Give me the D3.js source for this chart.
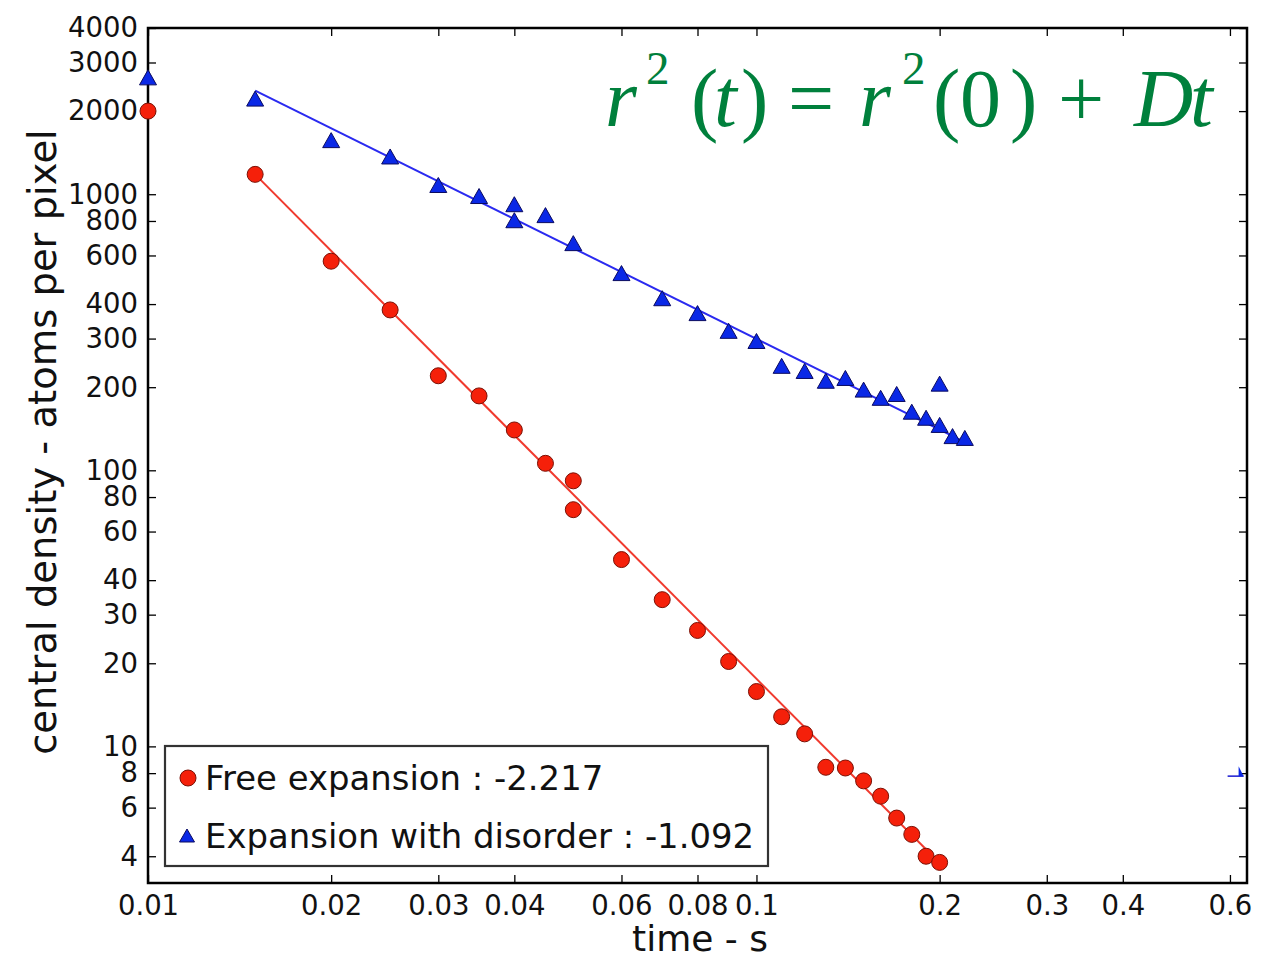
<!DOCTYPE html>
<html>
<head>
<meta charset="utf-8">
<script src="https://cdn.jsdelivr.net/npm/d3@7"></script>
<style>
  body { margin: 0; background: #fff; }
  text { font-family: "DejaVu Sans", sans-serif; }
</style>
</head>
<body>
<div id="chart"></div>
<script>
// free expansion (red circles)
var freeT = [0.01, 0.015, 0.02, 0.025, 0.03, 0.035, 0.04, 0.045, 0.05, 0.05, 0.06, 0.07, 0.08, 0.09, 0.1,
             0.11, 0.12, 0.13, 0.14, 0.15, 0.16, 0.17, 0.18, 0.19, 0.2];
var freeN = [2000, 1180, 572, 381, 220, 186, 140, 106, 91.6, 72, 47.5, 34, 26.3, 20.3, 15.8,
             12.8, 11.1, 8.4, 8.35, 7.5, 6.6, 5.5, 4.8, 4.0, 3.8];

// expansion with disorder (blue triangles)
var disT = [0.01, 0.015, 0.02, 0.025, 0.03, 0.035, 0.04, 0.04, 0.045, 0.05, 0.06, 0.07, 0.08, 0.09, 0.1,
            0.11, 0.12, 0.13, 0.14, 0.15, 0.16, 0.17, 0.18, 0.19, 0.2, 0.2, 0.21, 0.22];
var disN = [2650, 2220, 1570, 1370, 1080, 985, 920, 805, 840, 665, 518, 420, 371, 320, 294,
            239, 229, 211, 216, 196, 183, 189, 163, 155, 206, 146, 133, 131];

// power-law fit lines, end points
var freeFit = [[0.015, 1180], [0.2, 3.78]];
var disFit = [[0.015, 2373], [0.22, 126.5]];

// the stray blue mark on the right edge
var strayT = [0.62];
var strayN = [8];

var xTicks = [0.01, 0.02, 0.03, 0.04, 0.06, 0.08, 0.1, 0.2, 0.3, 0.4, 0.6];
var yTicks = [4, 6, 8, 10, 20, 30, 40, 60, 80, 100, 200, 300, 400, 600, 800, 1000, 2000, 3000, 4000];

var legendLabels = ["Free expansion : -2.217", "Expansion with disorder : -1.092"];

var margin = {top: 28, right: 14, bottom: 77, left: 148},
    width = 1261 - margin.left - margin.right,
    height = 960 - margin.top - margin.bottom;

var svg = d3.select("#chart")
  .append("svg")
    .attr("width", 1261)
    .attr("height", 960);

var g = svg.append("g")
    .attr("transform", "translate(" + margin.left + "," + margin.top + ")");

var x = d3.scaleLog()
  .domain([0.01, 0.64])
  .range([0, width]);

var y = d3.scaleLog()
  .domain([3.2, 4000])
  .range([height, 0]);

var fmt = function(d) { return String(d); };

// axes with inward ticks on all four sides
function styleAxis(sel) {
  sel.select(".domain").remove();
  sel.selectAll(".tick line").attr("stroke", "#000").attr("stroke-width", 1.3);
  sel.selectAll(".tick text")
    .attr("fill", "#111")
    .style("font-family", "'DejaVu Sans', sans-serif")
    .style("font-size", "27.5px");
}

g.append("g")
  .attr("transform", "translate(0," + height + ")")
  .call(d3.axisBottom(x).tickValues(xTicks).tickFormat(fmt).tickSizeInner(-8).tickPadding(12))
  .call(styleAxis);

g.append("g")
  .call(d3.axisTop(x).tickValues(xTicks).tickFormat("").tickSizeInner(-8))
  .call(styleAxis);

g.append("g")
  .call(d3.axisLeft(y).tickValues(yTicks).tickFormat(fmt).tickSizeInner(-8).tickPadding(10))
  .call(styleAxis);

g.append("g")
  .attr("transform", "translate(" + width + ",0)")
  .call(d3.axisRight(y).tickValues(yTicks).tickFormat("").tickSizeInner(-8))
  .call(styleAxis);

// frame
g.append("rect")
  .attr("x", 0).attr("y", 0)
  .attr("width", width).attr("height", height)
  .attr("fill", "none")
  .attr("stroke", "#000")
  .attr("stroke-width", 2.5);

var line = d3.line()
  .x(function(d) { return x(d[0]); })
  .y(function(d) { return y(d[1]); });

g.append("path")
  .datum(freeFit)
  .attr("d", line)
  .attr("fill", "none")
  .attr("stroke", "#f03a2e")
  .attr("stroke-width", 2);

g.append("path")
  .datum(disFit)
  .attr("d", line)
  .attr("fill", "none")
  .attr("stroke", "#2a2af0")
  .attr("stroke-width", 2);

var tri = "M0,-7.5L8.5,7.5L-8.5,7.5Z";

g.selectAll(".dis")
  .data(d3.zip(disT, disN))
  .enter()
  .append("path")
    .attr("class", "dis")
    .attr("d", tri)
    .attr("transform", function(d) { return "translate(" + x(d[0]) + "," + y(d[1]) + ")"; })
    .attr("fill", "#0a28e6")
    .attr("stroke", "#0a0a60")
    .attr("stroke-width", 1);

g.selectAll(".free")
  .data(d3.zip(freeT, freeN))
  .enter()
  .append("circle")
    .attr("class", "free")
    .attr("cx", function(d) { return x(d[0]); })
    .attr("cy", function(d) { return y(d[1]); })
    .attr("r", 8)
    .attr("fill", "#f5200a")
    .attr("stroke", "#7a1005")
    .attr("stroke-width", 1);

// stray mark: a short blue stroke and the right half of a triangle
svg.append("clipPath")
  .attr("id", "halfclip")
  .append("rect")
    .attr("x", 0).attr("y", -10).attr("width", 10).attr("height", 20);

var stray = g.selectAll(".stray")
  .data(d3.zip(strayT, strayN))
  .enter()
  .append("g")
    .attr("class", "stray")
    .attr("transform", function(d) { return "translate(" + x(d[0]) + "," + y(d[1]) + ")"; });
stray.append("line")
  .attr("x1", -11).attr("x2", 5).attr("y1", 3).attr("y2", 3)
  .attr("stroke", "#1a1ad0").attr("stroke-width", 1.5);
stray.append("path")
  .attr("d", "M0,-7L5,3L-5,3Z")
  .attr("clip-path", "url(#halfclip)")
  .attr("fill", "#0a28e6");

// legend
var leg = svg.append("g").attr("transform", "translate(165,746)");
leg.append("rect")
  .attr("width", 603).attr("height", 120)
  .attr("fill", "#fff")
  .attr("stroke", "#333")
  .attr("stroke-width", 2.2);
leg.append("circle")
  .attr("cx", 23).attr("cy", 32).attr("r", 8)
  .attr("fill", "#f5200a").attr("stroke", "#7a1005").attr("stroke-width", 1);
leg.append("path")
  .attr("d", "M0,-7L7.5,6L-7.5,6Z")
  .attr("transform", "translate(22,90)")
  .attr("fill", "#0a28e6").attr("stroke", "#0a0a60").attr("stroke-width", 1);
leg.selectAll(".lt")
  .data(legendLabels)
  .enter()
  .append("text")
    .attr("class", "lt")
    .attr("x", 40)
    .attr("y", function(d, i) { return 44 + i * 58; })
    .attr("fill", "#111")
    .style("font-size", "33.9px")
    .text(function(d) { return d; });

// axis labels
svg.append("text")
  .attr("x", 700)
  .attr("y", 951)
  .attr("text-anchor", "middle")
  .attr("fill", "#111")
  .style("font-size", "36px")
  .text("time - s");

svg.append("text")
  .attr("transform", "translate(56,442)rotate(-90)")
  .attr("text-anchor", "middle")
  .attr("fill", "#111")
  .style("font-size", "38.5px")
  .text("central density - atoms per pixel");

// equation
var eqPieces = [
  {x: 605, t: "r", it: true},
  {x: 646, t: "2", sup: true},
  {x: 691, t: "("},
  {x: 714, t: "t", it: true},
  {x: 741, t: ")"},
  {x: 788, t: "="},
  {x: 859, t: "r", it: true},
  {x: 902, t: "2", sup: true},
  {x: 933, t: "("},
  {x: 960, t: "0"},
  {x: 1010, t: ")"},
  {x: 1058, t: "+"},
  {x: 1134, t: "D", it: true},
  {x: 1190, t: "t", it: true}
];
svg.append("g").selectAll("text")
  .data(eqPieces)
  .enter()
  .append("text")
    .attr("x", function(d) { return d.x; })
    .attr("y", function(d) { return d.sup ? 84 : 126; })
    .attr("fill", "#00803c")
    .style("font-family", "'Liberation Serif', 'Times New Roman', serif")
    .style("font-style", function(d) { return d.it ? "italic" : "normal"; })
    .style("font-size", function(d) { return d.sup ? "47px" : "82px"; })
    .text(function(d) { return d.t; });
</script>
</body>
</html>
